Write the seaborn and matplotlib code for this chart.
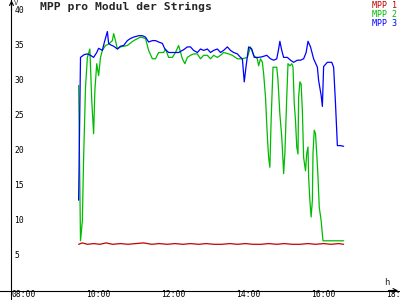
import numpy as np
import pandas as pd
import matplotlib
matplotlib.use("Agg")
import matplotlib.pyplot as plt
import matplotlib.transforms as mtransforms
import seaborn as sns

# ---------------- data ----------------
series_names = ["MPP 1", "MPP 2", "MPP 3"]
series_colors = ["#c00000", "#00bb00", "#0000ff"]

mpp1_times = ["09:41", "09:47", "09:55", "10:05", "10:15", "10:25", "10:35", "10:48",
              "11:00", "11:12", "11:25", "11:38", "11:50", "12:03", "12:15", "12:28",
              "12:40", "12:53", "13:05", "13:18", "13:30", "13:43", "13:55", "14:08",
              "14:20", "14:33", "14:45", "14:58", "15:10", "15:23", "15:35", "15:48",
              "16:00", "16:13", "16:25", "16:37", "16:45"]
mpp1_values = [6.6, 6.8, 6.6, 6.7, 6.6, 6.8, 6.6, 6.7, 6.6, 6.7, 6.8, 6.6, 6.7, 6.6,
               6.7, 6.6, 6.7, 6.6, 6.7, 6.6, 6.6, 6.7, 6.6, 6.7, 6.6, 6.6, 6.7, 6.6,
               6.7, 6.6, 6.6, 6.7, 6.6, 6.7, 6.6, 6.7, 6.6]

mpp2_times = ["09:41", "09:44", "09:47", "09:49", "09:52", "09:55", "09:59", "10:02",
              "10:05", "10:07", "10:10", "10:13", "10:16", "10:19", "10:24", "10:29",
              "10:35", "10:37", "10:40", "10:43", "10:48", "10:59", "11:09", "11:20",
              "11:28", "11:33", "11:39", "11:44", "11:49", "11:57", "12:00", "12:05",
              "12:11", "12:16", "12:21", "12:27", "12:31", "12:35", "12:40", "12:45",
              "12:51", "12:56", "13:01", "13:07", "13:12", "13:17", "13:23", "13:28",
              "13:33", "13:41", "13:47", "13:55", "14:03", "14:11", "14:16", "14:21",
              "14:27", "14:29", "14:32", "14:35", "14:37", "14:40", "14:43", "14:45",
              "14:47", "14:49", "14:52", "14:58", "15:00", "15:03", "15:06", "15:08",
              "15:09", "15:11", "15:14", "15:16", "15:19", "15:22", "15:24", "15:26",
              "15:28", "15:30", "15:32", "15:33", "15:35", "15:37", "15:39", "15:41",
              "15:44", "15:46", "15:48", "15:49", "15:51", "15:53", "15:55", "15:56",
              "15:58", "16:00", "16:02", "16:04", "16:06", "16:09", "16:12", "16:45"]
mpp2_values = [29.3, 7.1, 10.0, 19.0, 29.0, 33.3, 34.5, 27.1,
               22.4, 28.6, 32.4, 30.7, 33.3, 34.3, 35.0, 35.2,
               35.7, 36.7, 35.7, 34.5, 34.8, 35.0, 35.7, 36.2,
               36.0, 34.3, 33.1, 33.1, 34.0, 34.0, 34.5, 33.3,
               33.3, 34.0, 35.0, 33.1, 32.4, 33.3, 33.6, 33.8,
               33.8, 33.1, 33.6, 33.6, 33.1, 33.6, 33.3, 33.6,
               34.0, 33.8, 33.6, 33.1, 33.1, 33.3, 34.8, 33.6,
               33.1, 32.1, 33.1, 32.6, 31.0, 27.6, 21.9, 19.0,
               17.6, 24.3, 31.9, 31.9, 30.0, 25.2, 21.9, 18.6,
               16.7, 19.6, 27.6, 32.4, 32.1, 32.4, 31.9, 26.7,
               24.3, 20.5, 19.5, 27.6, 29.8, 29.5, 25.7, 19.0,
               17.1, 19.6, 20.5, 16.2, 12.9, 10.5, 12.9, 19.6,
               22.9, 22.4, 19.5, 16.2, 11.9, 10.0, 7.1, 7.1]

mpp3_times = ["09:41", "09:44", "09:47", "09:50", "09:55", "10:00", "10:05", "10:10",
              "10:13", "10:19", "10:22", "10:27", "10:29", "10:32", "10:37", "10:43",
              "10:48", "10:53", "10:59", "11:04", "11:09", "11:17", "11:23", "11:28",
              "11:33", "11:39", "11:44", "11:49", "11:55", "11:59", "12:05", "12:11",
              "12:21", "12:29", "12:35", "12:40", "12:45", "12:51", "12:56", "13:01",
              "13:07", "13:12", "13:17", "13:23", "13:28", "13:33", "13:39", "13:44",
              "13:49", "13:55", "14:00", "14:03", "14:06", "14:09", "14:13", "14:18",
              "14:22", "14:29", "14:35", "14:42", "14:48", "14:53", "14:58", "15:01",
              "15:03", "15:06", "15:09", "15:15", "15:20", "15:25", "15:31", "15:36",
              "15:41", "15:45", "15:48", "15:52", "15:57", "16:03", "16:05", "16:09",
              "16:11", "16:13", "16:19", "16:26", "16:29", "16:32", "16:35", "16:40",
              "16:45"]
mpp3_values = [12.9, 33.3, 33.5, 33.7, 33.8, 33.6, 33.3, 34.0,
               34.6, 34.3, 35.4, 37.0, 35.3, 35.1, 34.9, 34.5,
               34.9, 35.0, 35.7, 36.0, 36.2, 36.4, 36.4, 36.2,
               35.5, 35.7, 35.7, 35.5, 35.3, 34.5, 34.0, 34.0,
               34.0, 34.4, 34.8, 34.8, 34.3, 34.0, 34.5, 34.3,
               34.5, 34.0, 34.3, 34.5, 34.0, 34.3, 34.8, 34.3,
               34.0, 33.8, 33.3, 33.1, 29.8, 32.1, 34.8, 34.5,
               33.3, 33.3, 33.4, 33.6, 33.1, 32.9, 33.1, 34.5,
               35.6, 34.3, 33.3, 33.3, 32.9, 32.6, 32.9, 32.9,
               33.1, 34.0, 35.6, 34.8, 33.1, 31.9, 30.0, 27.9,
               26.3, 32.0, 32.6, 32.6, 31.9, 26.7, 20.7, 20.7,
               20.6]

x_tick_hours = [8, 10, 12, 14, 16, 18]
x_tick_labels = ["08:00", "10:00", "12:00", "14:00", "16:00", "18:00"]
y_ticks = [5, 10, 15, 20, 25, 30, 35, 40]
title_text = "MPP pro Modul der Strings"
y_unit = "V"
x_unit = "h"


def to_hours(t):
    h, m = t.split(":")
    return int(h) + int(m) / 60.0


frames = []
for name, times, vals in [("MPP 1", mpp1_times, mpp1_values),
                          ("MPP 2", mpp2_times, mpp2_values),
                          ("MPP 3", mpp3_times, mpp3_values)]:
    frames.append(pd.DataFrame({"hour": [to_hours(t) for t in times],
                                "value": vals, "series": name}))
df = pd.concat(frames, ignore_index=True)

# ---------------- style ----------------
sns.set_style("white")
plt.rcParams["font.family"] = ["DejaVu Sans Mono", "DejaVu Sans"]

fig = plt.figure(figsize=(4, 3), dpi=100)
ax = fig.add_axes([0, 0, 1, 1])
ax.set_facecolor("white")

sns.lineplot(data=df, x="hour", y="value", hue="series", hue_order=series_names,
             palette=dict(zip(series_names, series_colors)), estimator=None,
             sort=False, linewidth=0.9, ax=ax, legend=True)

# pixel mapping: x_px = 15.5 + 37.5*(h-8); y_px = 290.5 - 7*v
ax.set_xlim(8 - 15.5 / 37.5, 8 + 384.5 / 37.5)
ax.set_ylim(-9.5 / 7, 290.5 / 7)
y_axis_x = 8 - 4.0 / 37.5

for s in ["top", "right"]:
    ax.spines[s].set_visible(False)
ax.spines["left"].set_position(("data", y_axis_x))
ax.spines["bottom"].set_position(("data", 0))
for s in ["left", "bottom"]:
    ax.spines[s].set_color("black")
    ax.spines[s].set_linewidth(0.8)

ax.set_xticks(x_tick_hours)
ax.set_xticklabels(x_tick_labels)
ax.set_yticks(y_ticks)
ax.set_yticklabels([str(v) for v in y_ticks])
ax.tick_params(axis="both", direction="inout", length=4.3, width=0.75,
               colors="black", labelsize=5.8)
ax.tick_params(axis="y", pad=-4.3)
ax.tick_params(axis="x", pad=-2.2)
for lbl in ax.get_yticklabels():
    lbl.set_horizontalalignment("left")
    lbl.set_verticalalignment("center")
shift = mtransforms.ScaledTranslation(-4 / 100, 0, fig.dpi_scale_trans)
for lbl in ax.get_xticklabels():
    lbl.set_horizontalalignment("left")
    lbl.set_transform(lbl.get_transform() + shift)

ax.set_xlabel("")
ax.set_ylabel("")

# axis arrows
xmax = ax.get_xlim()[1]
ymax = ax.get_ylim()[1]
ax.annotate("", xy=(xmax - 0.05, 0), xytext=(xmax - 0.3, 0),
            arrowprops=dict(arrowstyle="->", lw=0.8, color="black",
                            shrinkA=0, shrinkB=0, mutation_scale=7))
ax.annotate("", xy=(y_axis_x, ymax - 0.05), xytext=(y_axis_x, ymax - 1.5),
            arrowprops=dict(arrowstyle="->", lw=0.8, color="black",
                            shrinkA=0, shrinkB=0, mutation_scale=7))

# unit labels
fig.text(14 / 400, 1 - 0 / 300, y_unit, fontsize=5, ha="left", va="top")
fig.text(384 / 400, 1 - 278 / 300, x_unit, fontsize=6.5, ha="left", va="top")

# title
fig.text(40 / 400, 1 - 2 / 300, title_text, fontsize=8.2, fontweight="bold",
         ha="left", va="top")

# legend: coloured text only
leg = ax.legend(loc="upper right", bbox_to_anchor=(397 / 400, 1 - 0.5 / 300),
                handlelength=0, handletextpad=0, frameon=False,
                labelcolor="linecolor", fontsize=6, labelspacing=0.05,
                borderpad=0, borderaxespad=0)
for h in leg.legend_handles:
    h.set_visible(False)

fig.savefig("out.png", dpi=100, facecolor="white")
